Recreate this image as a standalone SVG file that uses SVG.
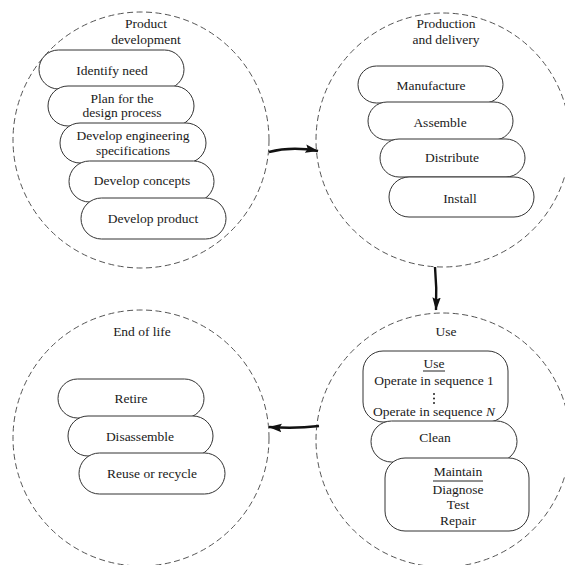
<svg xmlns="http://www.w3.org/2000/svg" width="565" height="565" viewBox="0 0 565 565">
<defs>
<style>
.ring{fill:none;stroke:#555;stroke-width:1;stroke-dasharray:6 3.5}
.box{fill:#fff;stroke:#333;stroke-width:1}
text{font-family:"Liberation Serif","Times New Roman",serif;font-size:13.5px;fill:#1a1a1a;text-anchor:middle}
.conn{fill:none;stroke:#111;stroke-width:2.4}
.ul{stroke:#222;stroke-width:1}
</style>
<marker id="ah" viewBox="0 0 12 10" refX="11.5" refY="5" markerWidth="5.5" markerHeight="4.6" orient="auto" markerUnits="strokeWidth">
<path d="M0,1.2 L12,5 L0,8.8 L2,5 z" fill="#111"/>
</marker>
</defs>
<rect width="565" height="565" fill="#fff"/>

<g id="product-development">
<circle class="ring" cx="141" cy="140" r="128"/>
<text x="146" y="28">Product</text>
<text x="146" y="44">development</text>
<g id="identify-need"><rect class="box" x="39" y="50" width="145" height="39" rx="19.5"/><text x="112" y="75">Identify need</text></g>
<g id="plan-design"><rect class="box" x="48" y="86" width="146" height="40" rx="20"/><text x="122" y="103">Plan for the</text><text x="122" y="117">design process</text></g>
<g id="develop-eng-spec"><rect class="box" x="60" y="123" width="146" height="40" rx="20"/><text x="133" y="140">Develop engineering</text><text x="133" y="155">specifications</text></g>
<g id="develop-concepts"><rect class="box" x="69" y="161" width="145" height="41" rx="20.5"/><text x="142" y="185">Develop concepts</text></g>
<g id="develop-product"><rect class="box" x="81" y="198" width="145" height="41" rx="20.5"/><text x="153" y="223">Develop product</text></g>
</g>

<g id="production-delivery">
<circle class="ring" cx="443" cy="140" r="127"/>
<text x="446" y="28">Production</text>
<text x="446" y="44">and delivery</text>
<g id="manufacture"><rect class="box" x="358" y="66" width="145" height="37" rx="18.5"/><text x="431" y="90">Manufacture</text></g>
<g id="assemble"><rect class="box" x="368" y="102" width="145" height="38" rx="19"/><text x="440" y="127">Assemble</text></g>
<g id="distribute"><rect class="box" x="380" y="139" width="145" height="38" rx="19"/><text x="452" y="162">Distribute</text></g>
<g id="install"><rect class="box" x="389" y="177" width="145" height="40" rx="20"/><text x="460" y="203">Install</text></g>
</g>

<g id="end-of-life">
<circle class="ring" cx="141" cy="438" r="128"/>
<text x="142" y="336">End of life</text>
<g id="retire"><rect class="box" x="58" y="379" width="146" height="39" rx="19.5"/><text x="131" y="403">Retire</text></g>
<g id="disassemble"><rect class="box" x="68" y="416" width="145" height="40" rx="20"/><text x="140" y="441">Disassemble</text></g>
<g id="reuse-recycle"><rect class="box" x="79" y="453" width="146" height="41" rx="20.5"/><text x="152" y="478">Reuse or recycle</text></g>
</g>

<g id="use">
<circle class="ring" cx="443" cy="440" r="127"/>
<text x="446" y="336">Use</text>
<g id="use-box"><rect class="box" x="363" y="351" width="145" height="71" rx="20"/>
<text x="434" y="368">Use</text><line class="ul" x1="423" y1="371" x2="445" y2="371"/>
<text x="434" y="385">Operate in sequence 1</text>
<circle cx="434" cy="394" r="1" fill="#222"/><circle cx="434" cy="398.5" r="1" fill="#222"/><circle cx="434" cy="403" r="1" fill="#222"/>
<text x="434" y="416">Operate in sequence <tspan font-style="italic">N</tspan></text></g>
<g id="clean"><rect class="box" x="371" y="421" width="146" height="41" rx="20.5"/><text x="435" y="442">Clean</text></g>
<g id="maintain"><rect class="box" x="385" y="458" width="144" height="73" rx="20"/>
<text x="458" y="476">Maintain</text><line class="ul" x1="433" y1="481" x2="483" y2="481"/>
<text x="458" y="494">Diagnose</text><text x="458" y="509">Test</text><text x="458" y="525">Repair</text></g>
</g>

<g id="connectors">
<path class="conn" d="M269,152 Q292,146 318,151" marker-end="url(#ah)"/>
<path class="conn" d="M435,267 Q437,288 436,310" marker-end="url(#ah)"/>
<path class="conn" d="M319,426 Q295,429 269,427" marker-end="url(#ah)"/>
</g>
</svg>
